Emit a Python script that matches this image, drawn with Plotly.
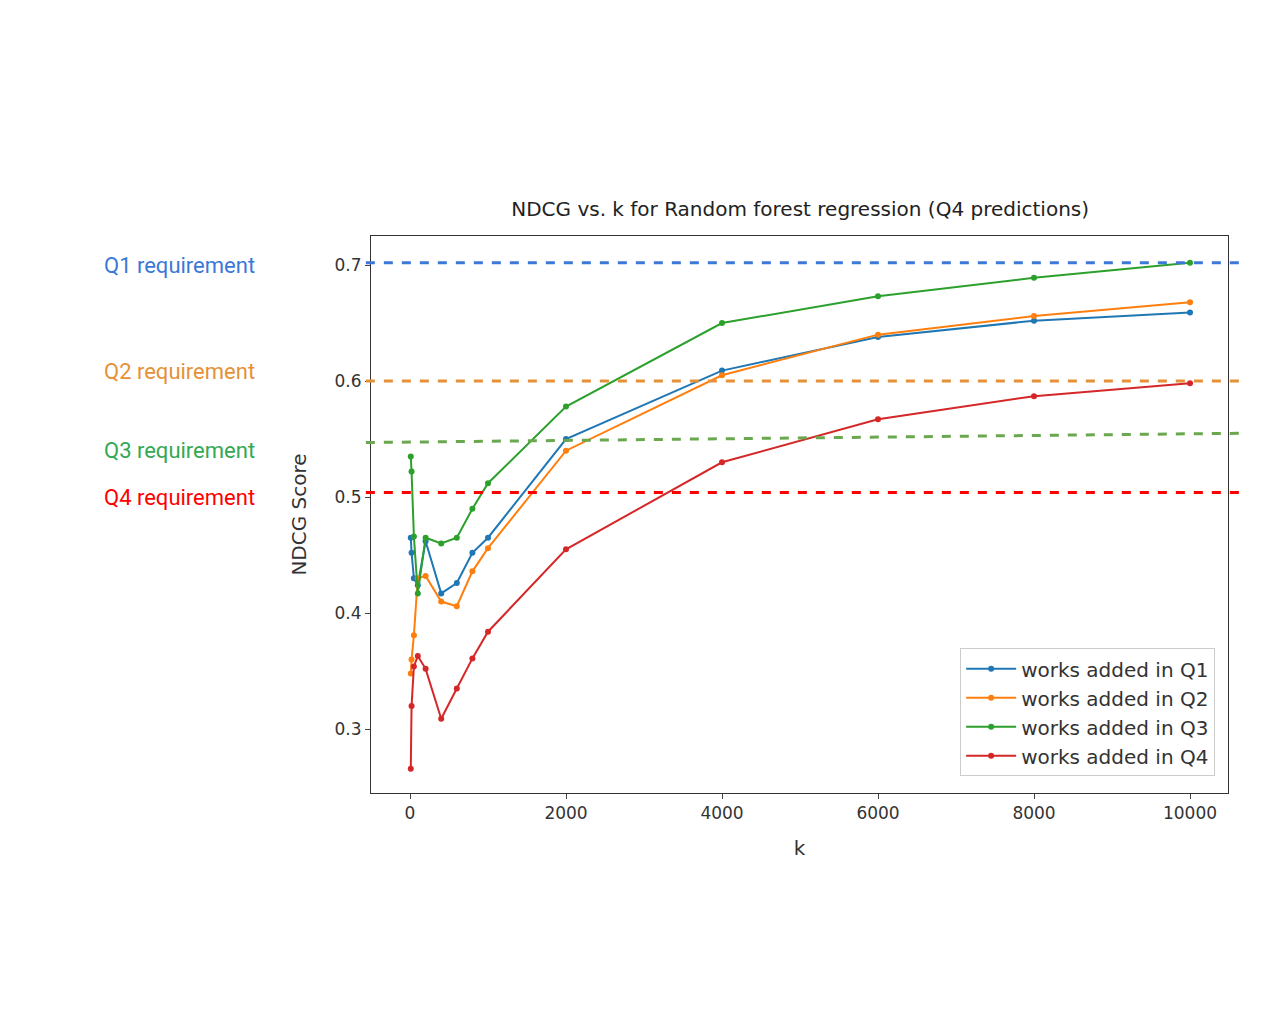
import plotly.graph_objects as go

k = [10, 20, 50, 100, 200, 400, 600, 800, 1000, 2000, 4000, 6000, 8000, 10000]
q1 = [0.465, 0.452, 0.430, 0.424, 0.462, 0.417, 0.426, 0.452, 0.465, 0.550, 0.609, 0.638, 0.652, 0.659]
q2 = [0.348, 0.360, 0.381, 0.430, 0.432, 0.410, 0.406, 0.436, 0.456, 0.540, 0.605, 0.640, 0.656, 0.668]
q3 = [0.535, 0.522, 0.466, 0.417, 0.465, 0.460, 0.465, 0.490, 0.512, 0.578, 0.650, 0.673, 0.689, 0.702]
q4 = [0.266, 0.320, 0.354, 0.363, 0.352, 0.309, 0.335, 0.361, 0.384, 0.455, 0.530, 0.567, 0.587, 0.598]

series = [("works added in Q1", q1, "#1f77b4"), ("works added in Q2", q2, "#ff7f0e"),
          ("works added in Q3", q3, "#2ca02c"), ("works added in Q4", q4, "#d62728")]

# requirement lines: (label, y at left, y at right, line colour, text colour)
reqs = [("Q1 requirement", 0.702, 0.702, "#3c78d8", "#3c78d8"),
        ("Q2 requirement", 0.600, 0.600, "#e69138", "#e69138"),
        ("Q3 requirement", 0.547, 0.555, "#6aa84f", "#34a853"),
        ("Q4 requirement", 0.504, 0.504, "#ff0000", "#ff0000")]
label_y = [0.7, 0.608, 0.540, 0.500]

fig = go.Figure()
for name, ys, col in series:
    fig.add_trace(go.Scatter(x=k, y=ys, name=name, mode="lines+markers",
                             line=dict(color=col, width=2), marker=dict(size=6, color=col)))

for (lab, y0, y1, lc, tc), ly in zip(reqs, label_y):
    fig.add_shape(type="line", xref="paper", yref="y", x0=-0.006, x1=1.015, y0=y0, y1=y1,
                  line=dict(color=lc, width=3, dash="dash"))
    fig.add_annotation(text=lab, xref="paper", yref="y", x=-0.133, y=ly, xanchor="right",
                       showarrow=False, font=dict(family="Roboto", size=22, color=tc))

fig.update_layout(
    width=1288, height=1012, paper_bgcolor="white", plot_bgcolor="white",
    margin=dict(l=363, r=68, t=228, b=227),
    font=dict(family="DejaVu Sans", size=17, color="#333"),
    title=dict(text="NDCG vs. k for Random forest regression (Q4 predictions)", x=0.615, y=0.808,
               xanchor="center", font=dict(size=20, color="#222")),
    xaxis=dict(title=dict(text="k", standoff=18), range=[-500, 10487],
               tickvals=[0, 2000, 4000, 6000, 8000, 10000],
               ticktext=["0", "2000", "4000", "6000", "8000", "10000"],
               showgrid=False, zeroline=False, showline=True, linecolor="#333", mirror=True,
               ticks="outside", ticklen=5),
    yaxis=dict(title=dict(text="NDCG Score", standoff=22), range=[0.245, 0.725], tickvals=[0.3, 0.4, 0.5, 0.6, 0.7],
               showgrid=False, zeroline=False, showline=True, linecolor="#333", mirror=True,
               ticks="outside", ticklen=5),
    legend=dict(x=0.985, y=0.03, xanchor="right", yanchor="bottom", bordercolor="#ccc", borderwidth=1,
                bgcolor="white", font=dict(size=20), itemwidth=50, tracegroupgap=8),
)

fig.write_html("out.html")
